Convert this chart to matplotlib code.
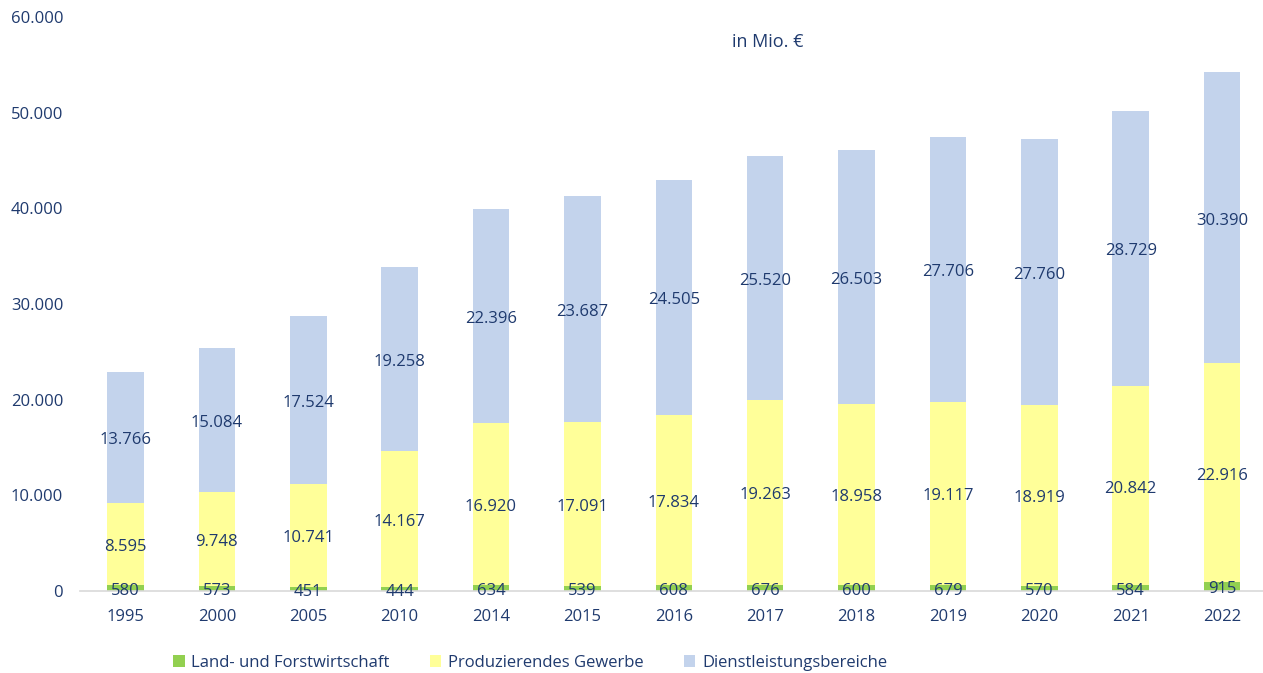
import matplotlib
matplotlib.use("Agg")
import matplotlib.pyplot as plt
import numpy as np

years = ["1995", "2000", "2005", "2010", "2014", "2015", "2016", "2017", "2018", "2019", "2020", "2021", "2022"]
land = [580, 573, 451, 444, 634, 539, 608, 676, 600, 679, 570, 584, 915]
prod = [8595, 9748, 10741, 14167, 16920, 17091, 17834, 19263, 18958, 19117, 18919, 20842, 22916]
dienst = [13766, 15084, 17524, 19258, 22396, 23687, 24505, 25520, 26503, 27706, 27760, 28729, 30390]
series_names = ["Land- und Forstwirtschaft", "Produzierendes Gewerbe", "Dienstleistungsbereiche"]
yticks = [0, 10000, 20000, 30000, 40000, 50000, 60000]
ytick_labels = ["0", "10.000", "20.000", "30.000", "40.000", "50.000", "60.000"]

plt.rcParams['font.family'] = ['Open Sans', 'DejaVu Sans']
txt = '#1F3A6E'
colors = ['#92D050', '#FFFF99', '#C3D3EC']

fig = plt.figure(figsize=(12.63, 6.73), dpi=100)
ax = fig.add_axes([79.8/1263, 82/673, 1188/1263, 574/673])

x = np.arange(len(years))
w = 0.40
land_a = np.array(land); prod_a = np.array(prod); dienst_a = np.array(dienst)
b1 = ax.bar(x, land_a, w, color=colors[0], label=series_names[0], zorder=2)
b2 = ax.bar(x, prod_a, w, bottom=land_a, color=colors[1], label=series_names[1], zorder=2)
b3 = ax.bar(x, dienst_a, w, bottom=land_a + prod_a, color=colors[2], label=series_names[2], zorder=2)

def fmt(v):
    return f"{v:,}".replace(",", ".")

fs = 12
off = -300  # small downward shift to match label placement
for i in range(len(years)):
    ax.text(x[i], land_a[i] / 2 + off, fmt(land[i]), ha='center', va='center', color=txt, fontsize=fs, zorder=3)
    ax.text(x[i], land_a[i] + prod_a[i] / 2 + off, fmt(prod[i]), ha='center', va='center', color=txt, fontsize=fs, zorder=3)
    ax.text(x[i], land_a[i] + prod_a[i] + dienst_a[i] / 2 + off, fmt(dienst[i]), ha='center', va='center', color=txt, fontsize=fs, zorder=3)

ax.set_xlim(-0.5, len(years) - 0.5)
ax.set_ylim(0, 60000)
ax.set_yticks(yticks)
ax.set_yticklabels(ytick_labels)
ax.set_xticks(x)
ax.set_xticklabels(years)
for s in ['top', 'right', 'left']:
    ax.spines[s].set_visible(False)
ax.spines['bottom'].set_color('#D9D9D9')
ax.spines['bottom'].set_linewidth(1.2)
ax.tick_params(axis='both', length=0, labelsize=fs, labelcolor=txt)
ax.tick_params(axis='y', pad=12)
ax.tick_params(axis='x', pad=13)

fig.text(768/1263, 1 - 42/673, "in Mio. €", ha='center', va='center', color=txt, fontsize=13)

leg = fig.legend(handles=[b1, b2, b3], labels=series_names, loc='center', bbox_to_anchor=(530/1263, 1 - 663/673),
                 ncol=3, frameon=False, fontsize=fs, handlelength=0.7, handleheight=0.7,
                 columnspacing=2.4, handletextpad=0.4)
for t in leg.get_texts():
    t.set_color(txt)

fig.savefig("out.png", dpi=100)
